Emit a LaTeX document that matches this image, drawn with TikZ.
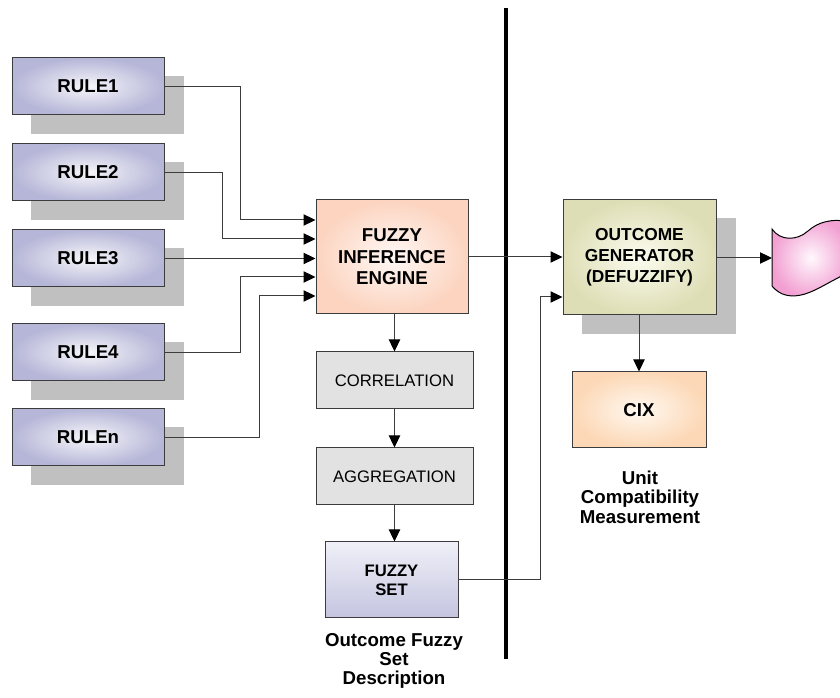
\documentclass[tikz,border=0pt]{standalone}
\usepackage{fontspec}
\setmainfont{Liberation Sans}
\usetikzlibrary{arrows.meta}
\usetikzlibrary{backgrounds, calc}

\definecolor{linegray}{RGB}{60,60,60}
\definecolor{shadowgray}{RGB}{192,192,192}
\definecolor{rulein}{RGB}{246,246,250}
\definecolor{ruleout}{RGB}{182,182,216}
\definecolor{enginein}{RGB}{255,248,245}
\definecolor{engineout}{RGB}{252,212,192}
\definecolor{genin}{RGB}{252,252,240}
\definecolor{genout}{RGB}{222,222,182}
\definecolor{cixin}{RGB}{255,248,240}
\definecolor{cixout}{RGB}{252,216,182}
\definecolor{stepfill}{RGB}{226,226,226}
\definecolor{settop}{RGB}{240,240,248}
\definecolor{setbot}{RGB}{196,196,224}
\definecolor{tapein}{RGB}{255,248,253}
\definecolor{tapeout}{RGB}{242,160,210}

\begin{document}
\begin{tikzpicture}[x=0.75pt,y=-0.75pt,
  box/.style={draw=linegray,line width=0.75pt,inner sep=0pt,align=center},
  rulebox/.style={box,minimum width=114pt,minimum height=42.75pt,inner color=rulein,outer color=ruleout,font=\fontsize{14}{16}\selectfont\bfseries},
  enginebox/.style={box,minimum width=114pt,minimum height=85.5pt,inner color=enginein,outer color=engineout,font=\fontsize{14}{16}\selectfont\bfseries},
  genbox/.style={box,minimum width=114.75pt,minimum height=86.25pt,inner color=genin,outer color=genout,font=\fontsize{13}{15.75}\selectfont\bfseries},
  cixbox/.style={box,minimum width=100.5pt,minimum height=57pt,inner color=cixin,outer color=cixout,font=\fontsize{14}{16}\selectfont\bfseries},
  stepbox/.style={box,minimum width=117.75pt,minimum height=42.75pt,fill=stepfill,font=\fontsize{12.5}{15}\selectfont},
  setbox/.style={box,minimum width=99.75pt,minimum height=57pt,top color=settop,bottom color=setbot,font=\fontsize{12.5}{14.25}\selectfont\bfseries},
  caption/.style={align=center,inner sep=0pt,font=\fontsize{14}{14.5}\selectfont\bfseries},
  wire/.style={draw=linegray,line width=0.75pt},
  arrow/.style={wire,-{Triangle[length=9pt,width=8.5pt,color=black]}}]
\useasboundingbox (0,0) rectangle (840,698);

\node[rulebox] (r1) at (88,86.5) {RULE1};
\node[rulebox] (r2) at (88,172.5) {RULE2};
\node[rulebox] (r3) at (88,258.5) {RULE3};
\node[rulebox] (r4) at (88,352.5) {RULE4};
\node[rulebox] (r5) at (88,437.5) {RULEn};

\node[enginebox] (engine) at (392,257) {FUZZY\\INFERENCE\\ENGINE};
\node[stepbox] (corr) at (394.5,380.5) {CORRELATION};
\node[stepbox] (agg) at (394.5,476.5) {AGGREGATION};
\node[setbox] (fset) at (391.5,580) {FUZZY\\SET};
\node[caption] (fsetcap) at (394,661) {Outcome Fuzzy\\Set\\Description};

\node[genbox] (gen) at (639.5,257.5) {OUTCOME\\GENERATOR\\(DEFUZZIFY)};
\node[cixbox] (cix) at (639,410) {CIX};
\node[caption] (cixcap) at (640,497) {Unit\\Compatibility\\Measurement};

\begin{scope}[on background layer]
\foreach \b in {r1,r2,r3,r4,r5,gen}
  \fill[shadowgray] ([shift={(19,19)}]\b.south west) rectangle ([shift={(19,19)}]\b.north east);
\end{scope}

% output tape
\coordinate (tapein) at (772,258);
\path[draw=black,line width=0.75pt,inner color=tapein,outer color=tapeout]
  (772,229) .. controls (780,241) and (797,241) .. (808,231)
  .. controls (818,222) and (832,218) .. (850,222) -- (850,272)
  .. controls (832,280) and (818,290) .. (805,294)
  .. controls (792,298) and (780,296) .. (772,286) -- cycle;

\draw[line width=3pt] (506,8) -- (506,659);

\draw[arrow] (r1.east) -- ++(76,0) |- ($(engine.west)+(0,-37)$);
\draw[arrow] (r2.east) -- ++(58,0) |- ($(engine.west)+(0,-18)$);
\draw[arrow] (r3.east) -- (r3.east -| engine.west);
\draw[arrow] (r4.east) -- ++(76,0) |- ($(engine.west)+(0,20)$);
\draw[arrow] (r5.east) -- ++(95,0) |- ($(engine.west)+(0,39)$);

\draw[arrow] (engine.south -| corr.north) -- (corr.north);
\draw[arrow] (corr.south) -- (agg.north);
\draw[arrow] (agg.south) -- (agg.south |- fset.north);

\draw[arrow] (engine.east) -- (engine.east -| gen.west);
\draw[arrow] (fset.east) -- ++(82,0) |- ($(gen.west)+(0,39.5)$);
\draw[arrow] (gen.east |- tapein) -- (tapein);
\draw[arrow] (gen.south -| cix.north) -- (cix.north);

\end{tikzpicture}
\end{document}
